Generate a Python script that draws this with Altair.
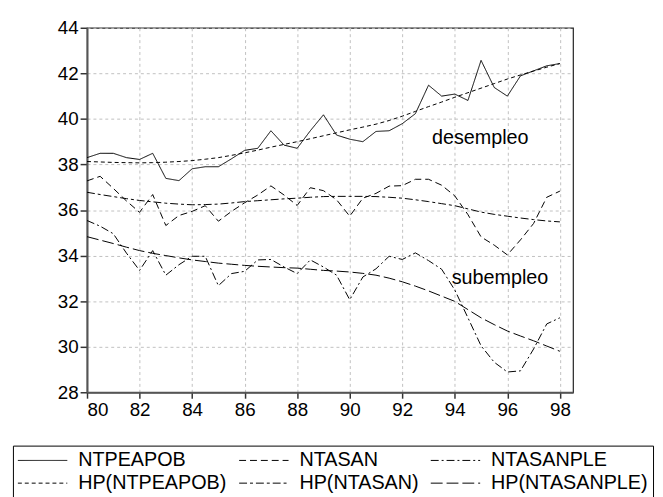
import altair as alt
import pandas as pd

years = [80 + 0.5 * i for i in range(37)]

series_names = ["NTPEAPOB", "NTASAN", "NTASANPLE",
                "HP(NTPEAPOB)", "HP(NTASAN)", "HP(NTASANPLE)"]

ntpeapob = [38.30, 38.49, 38.49, 38.30, 38.22, 38.49, 37.39, 37.29, 37.81, 37.90,
            37.90, 38.25, 38.62, 38.71, 39.48, 38.85, 38.71, 39.48, 40.18, 39.29,
            39.11, 39.00, 39.45, 39.48, 39.79, 40.23, 41.48, 41.00, 41.09, 40.81,
            42.57, 41.38, 41.00, 41.89, 42.11, 42.33, 42.43]

ntasan = [37.28, 37.48, 36.95, 36.40, 35.90, 36.68, 35.32, 35.76, 35.94, 36.19,
          35.51, 35.94, 36.32, 36.66, 37.06, 36.66, 36.20, 36.98, 36.85, 36.45,
          35.73, 36.52, 36.73, 37.05, 37.07, 37.35, 37.35, 37.09, 36.62, 35.80,
          34.82, 34.46, 34.03, 34.69, 35.41, 36.56, 36.83]

ntasanple = [35.54, 35.29, 34.96, 34.11, 33.35, 34.22, 33.14, 33.60, 33.97, 33.97,
             32.68, 33.21, 33.31, 33.81, 33.83, 33.50, 33.21, 33.81, 33.50, 33.14,
             32.06, 33.06, 33.42, 33.97, 33.83, 34.12, 33.78, 33.40, 32.49, 31.27,
             30.04, 29.32, 28.89, 28.94, 29.90, 31.00, 31.27]

hp_ntpeapob = [38.13, 38.11, 38.09, 38.08, 38.07, 38.08, 38.10, 38.13, 38.17, 38.23,
               38.30, 38.40, 38.51, 38.63, 38.76, 38.88, 39.00, 39.13, 39.26, 39.39,
               39.52, 39.64, 39.77, 39.93, 40.12, 40.33, 40.54, 40.74, 40.95, 41.15,
               41.35, 41.55, 41.75, 41.93, 42.10, 42.27, 42.43]

hp_ntasan = [36.78, 36.68, 36.59, 36.50, 36.42, 36.36, 36.30, 36.26, 36.23, 36.24,
             36.26, 36.31, 36.37, 36.41, 36.45, 36.49, 36.52, 36.56, 36.59, 36.60,
             36.60, 36.60, 36.59, 36.56, 36.52, 36.45, 36.37, 36.28, 36.19, 36.05,
             35.91, 35.81, 35.73, 35.65, 35.58, 35.52, 35.48]

hp_ntasanple = [34.83, 34.68, 34.53, 34.37, 34.22, 34.10, 34.00, 33.90, 33.81, 33.74,
                33.67, 33.62, 33.57, 33.53, 33.50, 33.47, 33.45, 33.40, 33.35, 33.32,
                33.28, 33.22, 33.14, 33.01, 32.85, 32.66, 32.45, 32.22, 31.99, 31.63,
                31.27, 30.97, 30.69, 30.47, 30.26, 30.03, 29.80]

dash_styles = [[1, 0], [7, 4], [8, 3, 2, 3], [4, 3], [8, 3, 3, 3], [12, 4]]

annot_text = ["desempleo", "subempleo"]
annot_x = [94.97, 95.72]
annot_y = [39.14, 33.0]

x_ticks = [80 + 0.5 * i for i in range(38)]
y_ticks = [28, 30, 32, 34, 36, 38, 40, 42, 44]

all_values = [ntpeapob, ntasan, ntasanple, hp_ntpeapob, hp_ntasan, hp_ntasanple]
rows = []
for name, vals in zip(series_names, all_values):
    for yr, v in zip(years, vals):
        rows.append({"year": yr, "value": v, "series": name})
df = pd.DataFrame(rows)
df_annot = pd.DataFrame({"label": annot_text, "x": annot_x, "y": annot_y})

FONT = "Liberation Sans"

x_scale = alt.Scale(domain=[80, 98.5], nice=False, zero=False)
y_scale = alt.Scale(domain=[28, 44], nice=False, zero=False)

lines = alt.Chart(df).mark_line(color="black", strokeWidth=1).encode(
    x=alt.X("year:Q", scale=x_scale, title=None,
            axis=alt.Axis(values=x_ticks,
                          labelExpr="datum.value % 2 === 0 ? datum.label : ''",
                          labelOverlap=False, labelFontSize=19, labelFont=FONT,
                          labelColor="black", labelPadding=3,
                          tickSize=6, tickColor="#333", tickWidth=1.5,
                          domainColor="#555", domainWidth=2,
                          grid=True, gridDash=[3, 3], gridColor="#c0c0c0",
                          gridOpacity={"condition": {"test": "datum.value % 2 === 0", "value": 1},
                                       "value": 0})),
    y=alt.Y("value:Q", scale=y_scale, title=None,
            axis=alt.Axis(values=y_ticks, labelFontSize=19, labelFont=FONT,
                          labelColor="black", labelPadding=2,
                          tickSize=7, tickColor="#333", tickWidth=1.5,
                          domainColor="#555", domainWidth=2,
                          grid=True, gridDash=[3, 3], gridColor="#c0c0c0")),
    strokeDash=alt.StrokeDash("series:N",
                              scale=alt.Scale(domain=series_names, range=dash_styles),
                              sort=series_names,
                              legend=alt.Legend(orient="none", legendX=-75, legendY=423,
                                                columns=3, direction="horizontal",
                                                title=None, symbolType="M-2,0H8",
                                                symbolSize=100, symbolStrokeWidth=1,
                                                symbolStrokeColor="black",
                                                labelFontSize=20, labelFont=FONT,
                                                labelColor="black", labelLimit=400,
                                                labelOffset=41, strokeColor="black",
                                                padding=5, columnPadding=10,
                                                rowPadding=3)),
    detail="series:N",
    order="year:Q",
)

annots = alt.Chart(df_annot).mark_text(fontSize=20, font=FONT, color="black",
                                       align="center", baseline="middle").encode(
    x=alt.X("x:Q", scale=x_scale),
    y=alt.Y("y:Q", scale=y_scale),
    text="label:N",
)

chart = alt.layer(lines, annots).properties(
    width=492, height=369,
    autosize=alt.AutoSizeParams(type="none"),
    padding={"left": 80, "top": 17, "right": 83, "bottom": 104},
).configure_view(stroke="#222", strokeWidth=1.2)

chart.save("out.html", embed_options={"renderer": "svg", "actions": False})
